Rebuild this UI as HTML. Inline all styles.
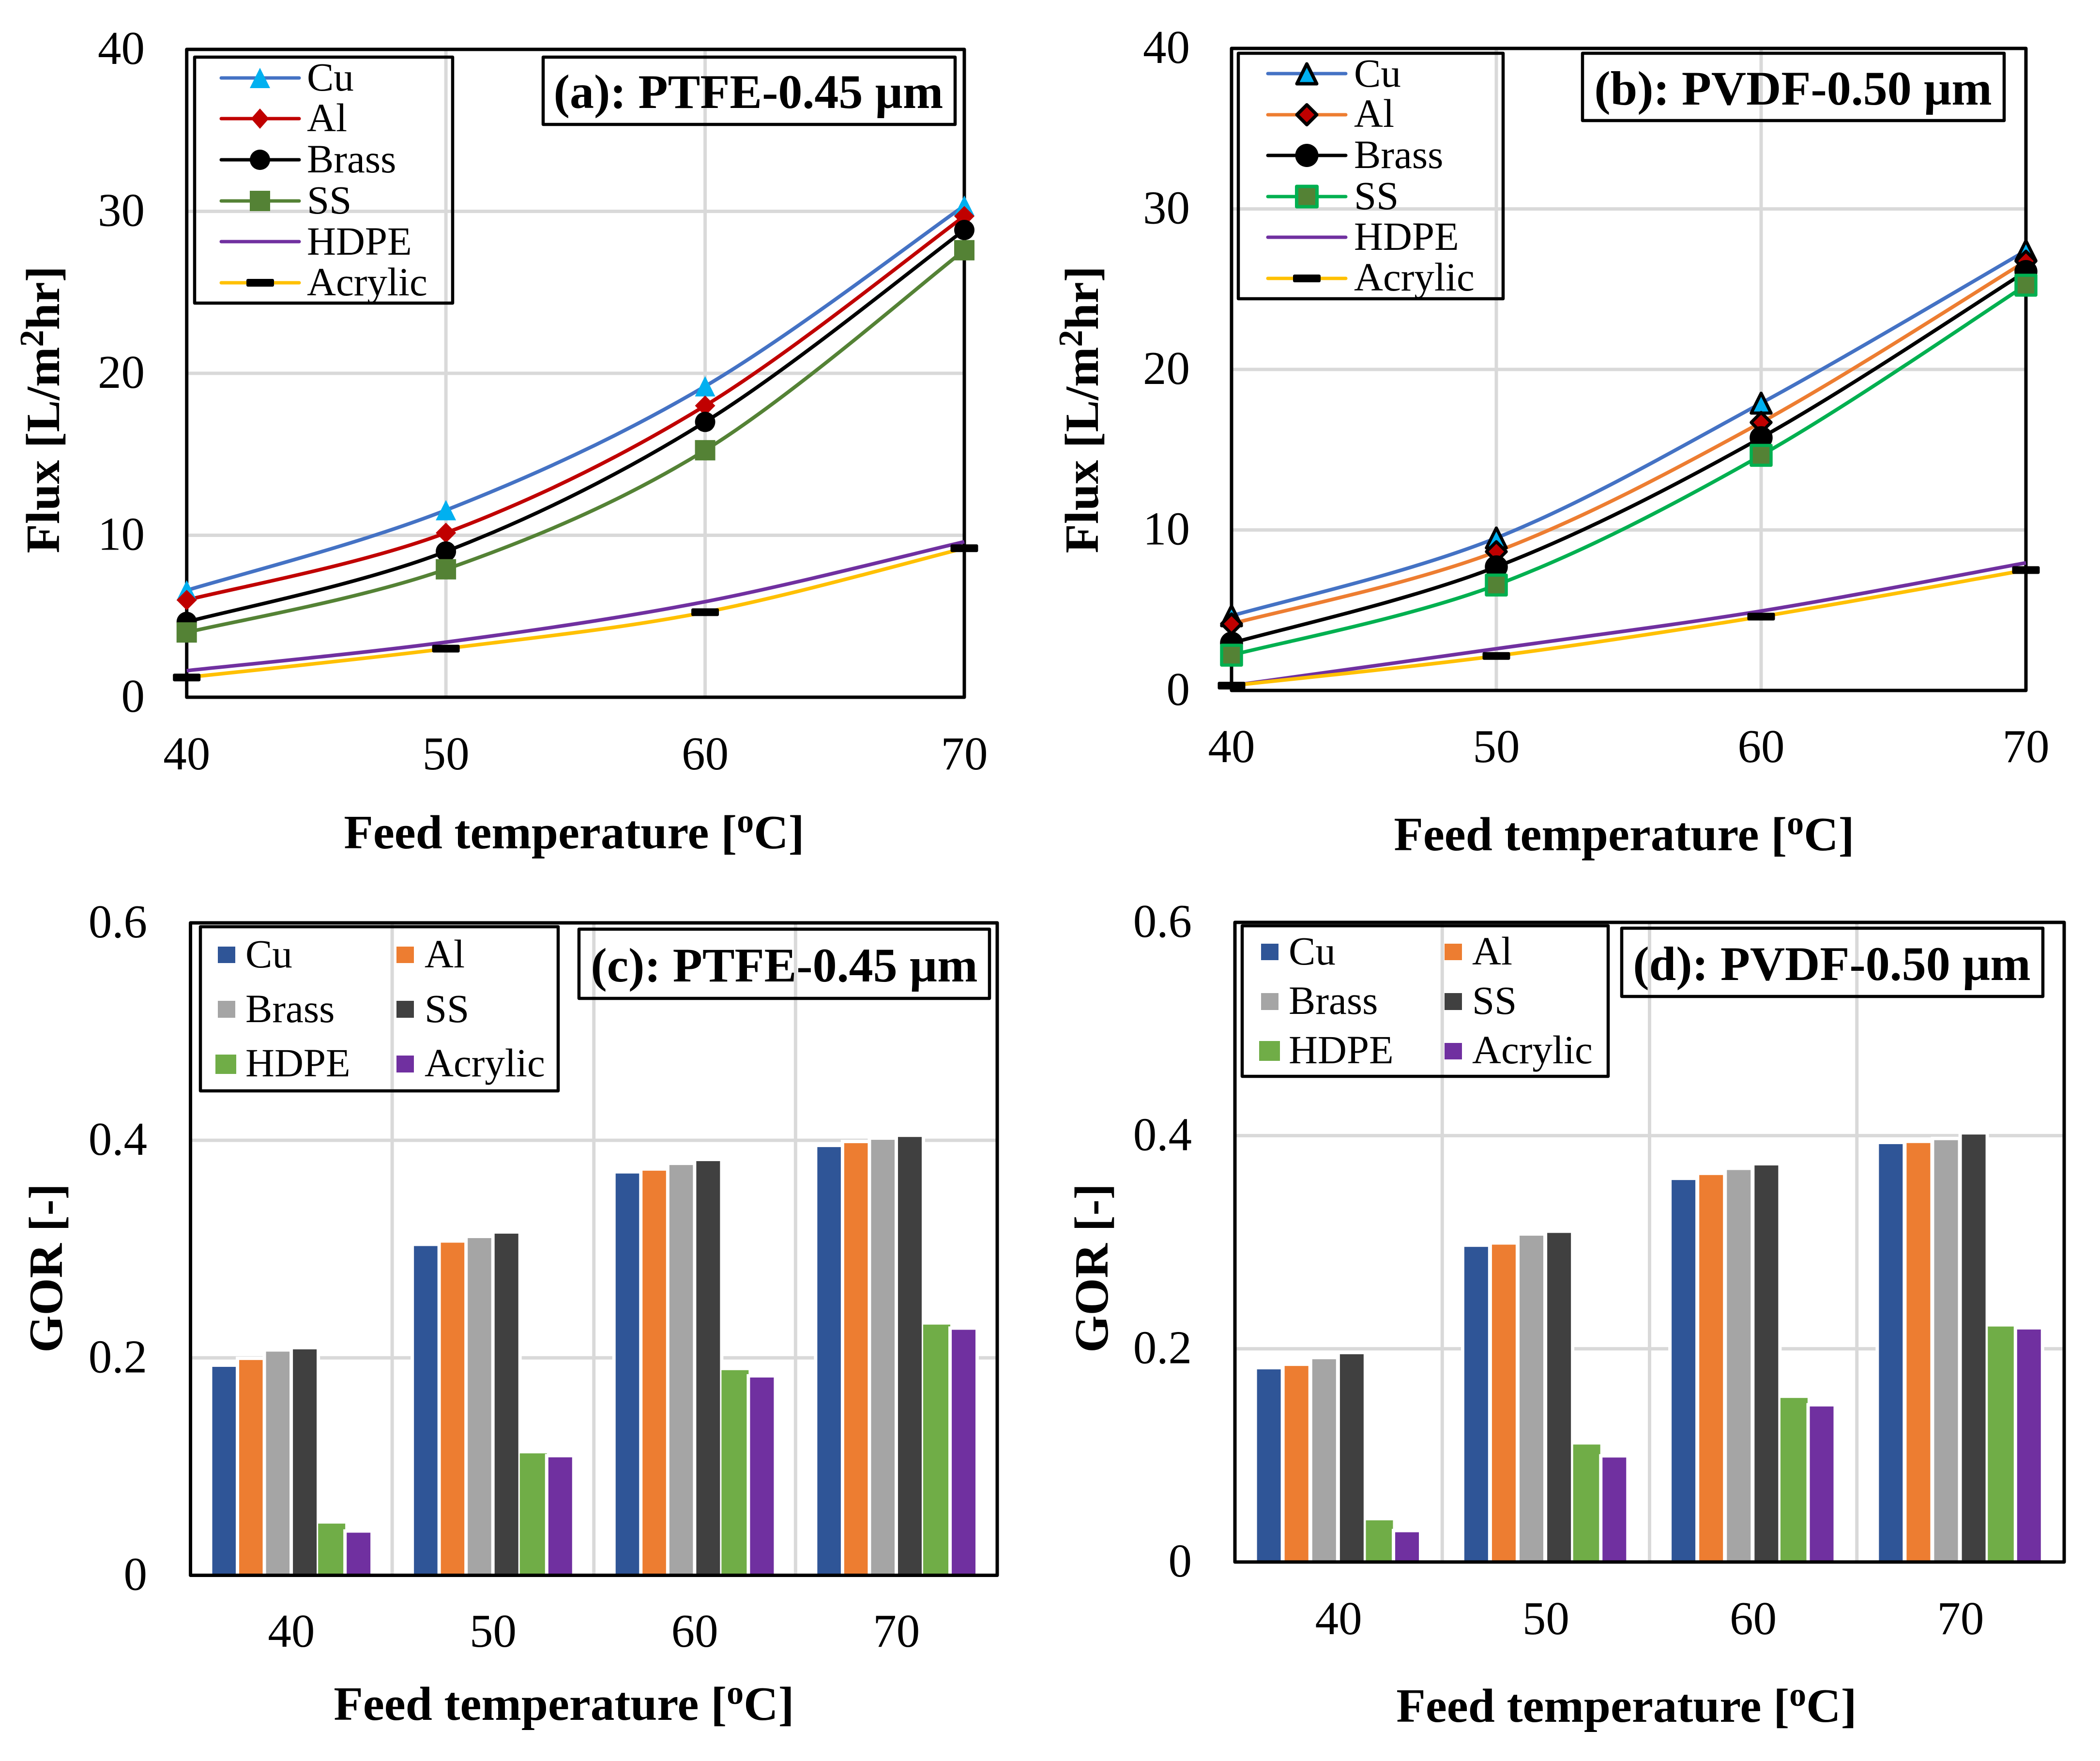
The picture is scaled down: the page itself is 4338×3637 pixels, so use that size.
<!DOCTYPE html>
<html lang="en">
<head>
<meta charset="utf-8">
<title>Flux and GOR versus feed temperature</title>
<style>
html,body{margin:0;padding:0;background:#fff;}
svg{display:block;font-family:"Liberation Serif",serif;}
.tick{font-size:97px;fill:#000;}
.ttl{font-size:99px;font-weight:bold;fill:#000;}
.leg{font-size:83px;fill:#000;}
.box{fill:none;stroke:#000;stroke-width:6.5;stroke-linejoin:round;}
.ll{stroke-width:7;stroke-linecap:round;fill:none;}
</style>
</head>
<body>
<svg id="figure" xmlns="http://www.w3.org/2000/svg" width="4338" height="3637" viewBox="0 0 4338 3637">
<rect x="0" y="0" width="4338" height="3637" fill="#fff"/>

<g id="panel-a"></g>
<g id="panel-b"></g>
<g id="panel-c"></g>
<g id="panel-d"></g>

<!-- axis titles -->
<text class="ttl" transform="translate(122,846) rotate(-90)" text-anchor="middle">Flux [L/m<tspan font-size="70" dy="-33">2</tspan><tspan dy="33">hr]</tspan></text>
<text class="ttl" x="1186" y="1752" text-anchor="middle">Feed temperature [<tspan font-size="70" dy="-33">o</tspan><tspan dy="33">C]</tspan></text>
<text class="ttl" transform="translate(2268,846) rotate(-90)" text-anchor="middle">Flux [L/m<tspan font-size="70" dy="-33">2</tspan><tspan dy="33">hr]</tspan></text>
<text class="ttl" x="3355" y="1756" text-anchor="middle">Feed temperature [<tspan font-size="70" dy="-33">o</tspan><tspan dy="33">C]</tspan></text>
<text class="ttl" transform="translate(128,2619) rotate(-90)" text-anchor="middle">GOR [-]</text>
<text class="ttl" x="1165" y="3552" text-anchor="middle">Feed temperature [<tspan font-size="70" dy="-33">o</tspan><tspan dy="33">C]</tspan></text>
<text class="ttl" transform="translate(2288,2619) rotate(-90)" text-anchor="middle">GOR [-]</text>
<text class="ttl" x="3360" y="3556" text-anchor="middle">Feed temperature [<tspan font-size="70" dy="-33">o</tspan><tspan dy="33">C]</tspan></text>

<!-- panel titles -->
<g>
<rect class="box" x="1122" y="118" width="851" height="139" fill="none"/>
<text class="ttl" x="1546" y="223" text-anchor="middle" style="font-size:100px">(a): PTFE-0.45 µm</text>
</g>
<g>
<rect class="box" x="3269" y="110" width="871" height="139"/>
<text class="ttl" x="3704" y="216" text-anchor="middle" style="font-size:100px">(b): PVDF-0.50 µm</text>
</g>
<g>
<rect class="box" x="1196" y="1919" width="848" height="143"/>
<text class="ttl" x="1620" y="2027" text-anchor="middle" style="font-size:100px">(c): PTFE-0.45 µm</text>
</g>
<g>
<rect class="box" x="3350" y="1917" width="870" height="141"/>
<text class="ttl" x="3784" y="2024" text-anchor="middle" style="font-size:100px">(d): PVDF-0.50 µm</text>
</g>

<!-- legend a -->
<g>
<rect class="box" x="402" y="118" width="533" height="508"/>
<g><line class="ll" x1="457" x2="618" y1="161" y2="161" stroke="#4472C4"/><polygon points="537,140 558,182 516,182" fill="#00B0F0"/><text class="leg" x="634" y="187">Cu</text></g>
<g><line class="ll" x1="457" x2="618" y1="245" y2="245" stroke="#C00000"/><polygon points="537,224 555.5,245 537,266 518.5,245" fill="#C00000"/><text class="leg" x="634" y="271">Al</text></g>
<g><line class="ll" x1="457" x2="618" y1="330" y2="330" stroke="#000"/><circle cx="537" cy="330" r="21" fill="#000"/><text class="leg" x="634" y="356">Brass</text></g>
<g><line class="ll" x1="457" x2="618" y1="415" y2="415" stroke="#548235"/><rect x="516" y="394" width="42" height="42" fill="#548235"/><text class="leg" x="634" y="441">SS</text></g>
<g><line class="ll" x1="457" x2="618" y1="499" y2="499" stroke="#7030A0"/><text class="leg" x="634" y="526">HDPE</text></g>
<g><line class="ll" x1="457" x2="618" y1="584" y2="584" stroke="#FFC000"/><rect x="509" y="576" width="57" height="16" rx="3" fill="#000"/><text class="leg" x="634" y="610">Acrylic</text></g>
</g>

<!-- legend b -->
<g>
<rect class="box" x="2558" y="110" width="547" height="507"/>
<g><line class="ll" x1="2619" x2="2780" y1="152" y2="152" stroke="#4472C4"/><polygon points="2699.5,132 2720,173 2679,173" fill="#00B0F0" stroke="#000" stroke-width="7" stroke-linejoin="round"/><text class="leg" x="2797" y="179">Cu</text></g>
<g><line class="ll" x1="2619" x2="2780" y1="237" y2="237" stroke="#ED7D31"/><polygon points="2699.5,216.5 2720,237 2699.5,257.5 2679,237" fill="#C00000" stroke="#000" stroke-width="7" stroke-linejoin="round"/><text class="leg" x="2797" y="262">Al</text></g>
<g><line class="ll" x1="2619" x2="2780" y1="321" y2="321" stroke="#000"/><circle cx="2699.5" cy="321" r="24" fill="#000"/><text class="leg" x="2797" y="347">Brass</text></g>
<g><line class="ll" x1="2619" x2="2780" y1="406" y2="406" stroke="#00B050"/><rect x="2678.5" y="385" width="42" height="42" fill="#548235" stroke="#00B050" stroke-width="7" stroke-linejoin="round"/><text class="leg" x="2797" y="432">SS</text></g>
<g><line class="ll" x1="2619" x2="2780" y1="490" y2="490" stroke="#7030A0"/><text class="leg" x="2797" y="516">HDPE</text></g>
<g><line class="ll" x1="2619" x2="2780" y1="575" y2="575" stroke="#FFC000"/><rect x="2671" y="567" width="57" height="16" rx="3" fill="#000"/><text class="leg" x="2797" y="600">Acrylic</text></g>
</g>

<!-- legend c -->
<g>
<rect class="box" x="414" y="1914" width="739" height="339"/>
<g><rect x="450" y="1955" width="36" height="34" fill="#2F5597"/><text class="leg" x="507" y="1998">Cu</text></g>
<g><rect x="819" y="1955" width="36" height="34" fill="#ED7D31"/><text class="leg" x="877" y="1998">Al</text></g>
<g><rect x="450" y="2067" width="36" height="35" fill="#A5A5A5"/><text class="leg" x="507" y="2111">Brass</text></g>
<g><rect x="819" y="2067" width="36" height="35" fill="#404040"/><text class="leg" x="877" y="2111">SS</text></g>
<g><rect x="445" y="2178" width="43" height="40" fill="#70AD47"/><text class="leg" x="507" y="2223">HDPE</text></g>
<g><rect x="819" y="2180" width="36" height="35" fill="#7030A0"/><text class="leg" x="877" y="2223">Acrylic</text></g>
</g>

<!-- legend d -->
<g>
<rect class="box" x="2566" y="1912" width="756" height="311"/>
<g><rect x="2605" y="1949" width="36" height="34" fill="#2F5597"/><text class="leg" x="2662" y="1992">Cu</text></g>
<g><rect x="2984" y="1949" width="36" height="34" fill="#ED7D31"/><text class="leg" x="3041" y="1992">Al</text></g>
<g><rect x="2605" y="2051" width="36" height="35" fill="#A5A5A5"/><text class="leg" x="2662" y="2094">Brass</text></g>
<g><rect x="2984" y="2051" width="36" height="35" fill="#404040"/><text class="leg" x="3041" y="2094">SS</text></g>
<g><rect x="2601" y="2150" width="43" height="41" fill="#70AD47"/><text class="leg" x="2662" y="2196">HDPE</text></g>
<g><rect x="2984" y="2154" width="36" height="34" fill="#7030A0"/><text class="leg" x="3041" y="2196">Acrylic</text></g>
</g>
</svg>

<script>
// Shared axis data
const categories = [40, 50, 60, 70];
const fluxTicks = [0, 10, 20, 30, 40];
const gorTicks = [0, 0.2, 0.4, 0.6];

// Panel (a) flux, PTFE 0.45 um
const aCu = [6.6, 11.55, 19.2, 30.35];
const aAl = [6.0, 10.15, 18.0, 29.7];
const aBrass = [4.65, 9.0, 17.0, 28.85];
const aSS = [4.0, 7.9, 15.25, 27.6];
const aHDPE = [1.64, 3.4, 5.9, 9.6];
const aAcrylic = [1.22, 3.0, 5.25, 9.2];

// Panel (b) flux, PVDF 0.50 um
const bCu = [4.65, 9.5, 17.9, 27.4];
const bAl = [4.15, 8.65, 16.7, 26.75];
const bBrass = [2.95, 7.7, 15.75, 26.1];
const bSS = [2.2, 6.57, 14.65, 25.25];
const bHDPE = [0.3, 2.6, 4.95, 7.95];
const bAcrylic = [0.3, 2.15, 4.6, 7.5];

// Panel (c) GOR, PTFE 0.45 um
const cCu = [0.1917, 0.3028, 0.3695, 0.3938];
const cAl = [0.198, 0.3059, 0.3721, 0.3974];
const cBrass = [0.2057, 0.3101, 0.3773, 0.4005];
const cSS = [0.2078, 0.3142, 0.3809, 0.4031];
const cHDPE = [0.046, 0.1106, 0.1871, 0.229];
const cAcrylic = [0.0392, 0.1085, 0.1819, 0.2258];

// Panel (d) GOR, PVDF 0.50 um
const dCu = [0.1807, 0.2956, 0.3583, 0.392];
const dAl = [0.1839, 0.2977, 0.363, 0.393];
const dBrass = [0.1902, 0.3061, 0.3677, 0.3957];
const dSS = [0.1949, 0.3087, 0.372, 0.401];
const dHDPE = [0.0375, 0.1086, 0.1523, 0.2193];
const dAcrylic = [0.0279, 0.098, 0.1459, 0.2181];

const NS = 'http://www.w3.org/2000/svg';
function mk(parent, tag, attrs, text) {
  const el = document.createElementNS(NS, tag);
  for (const k in attrs) el.setAttribute(k, attrs[k]);
  if (text !== undefined) el.textContent = text;
  parent.appendChild(el);
  return el;
}
function smoothPath(pts) {
  let d = 'M' + pts[0][0] + ' ' + pts[0][1];
  for (let i = 0; i < pts.length - 1; i++) {
    const p0 = pts[Math.max(0, i - 1)], p1 = pts[i], p2 = pts[i + 1], p3 = pts[Math.min(pts.length - 1, i + 2)];
    d += ' C' + (p1[0] + (p2[0] - p0[0]) / 6) + ' ' + (p1[1] + (p2[1] - p0[1]) / 6) +
         ' ' + (p2[0] - (p3[0] - p1[0]) / 6) + ' ' + (p2[1] - (p3[1] - p1[1]) / 6) +
         ' ' + p2[0] + ' ' + p2[1];
  }
  return d;
}
function drawFrame(g, p, ticks, ymax) {
  const y = v => p.bottom - (v / ymax) * (p.bottom - p.top);
  ticks.forEach(function (t) {
    if (t !== 0 && t !== ymax) {
      const gl = mk(g, 'line', {x1: p.left, x2: p.right, y1: y(t), y2: y(t), stroke: '#D9D9D9', 'stroke-width': 7});
      
      
    }
    const lb = mk(g, 'text', {class: 'tick', x: p.yLabelX, y: y(t) + 30, 'text-anchor': 'end'}, String(t));
    
    
  });
  return y;
}
function drawBorder(g, p) {
  const fr = mk(g, 'rect', {x: p.left, y: p.top, width: p.right - p.left, height: p.bottom - p.top, fill: 'none', stroke: '#000', 'stroke-width': 7, 'stroke-linejoin': 'round'});
  
  
}
function drawMarker(g, type, cx, cy, fill, stroke) {
  const sw = stroke ? {stroke: stroke, 'stroke-width': 6.5, 'stroke-linejoin': 'round'} : {};
  const h = stroke ? 20.5 : 21;
  let el;
  if (type === 'tri') {
    el = mk(g, 'polygon', Object.assign({points: cx + ',' + (cy - h) + ' ' + (cx + h) + ',' + (cy + h) + ' ' + (cx - h) + ',' + (cy + h), fill: fill}, sw));
  } else if (type === 'dia') {
    el = mk(g, 'polygon', Object.assign({points: cx + ',' + (cy - h) + ' ' + (cx + h) + ',' + cy + ' ' + cx + ',' + (cy + h) + ' ' + (cx - h) + ',' + cy, fill: fill}, sw));
  } else if (type === 'cir') {
    el = mk(g, 'circle', Object.assign({cx: cx, cy: cy, r: h, fill: fill}, sw));
  } else if (type === 'sq') {
    el = mk(g, 'rect', Object.assign({x: cx - h, y: cy - h, width: 2 * h, height: 2 * h, fill: fill}, sw));
  } else if (type === 'dash') {
    el = mk(g, 'rect', {x: cx - 28.5, y: cy - 8, width: 57, height: 16, rx: 3, fill: '#000'});
  }
  if (el) {
    
    
  }
}
function drawLinePanel(id, p, series) {
  const g = document.getElementById(id);
  const x = i => p.left + (i / (categories.length - 1)) * (p.right - p.left);
  categories.forEach(function (c, i) {
    if (i > 0 && i < categories.length - 1) {
      const gl = mk(g, 'line', {x1: x(i), x2: x(i), y1: p.top, y2: p.bottom, stroke: '#D9D9D9', 'stroke-width': 7});
      
      
    }
    const lb = mk(g, 'text', {class: 'tick', x: x(i), y: p.xLabelY, 'text-anchor': 'middle'}, String(c));
    
    
  });
  const y = drawFrame(g, p, fluxTicks, 40);
  drawBorder(g, p);
  series.forEach(function (s) {
    const pts = s.values.map((v, i) => [x(i), y(v)]);
    const ln = mk(g, 'path', {d: smoothPath(pts), fill: 'none', stroke: s.color, 'stroke-width': 7.5});
    
    
  });
  series.forEach(function (s) {
    s.values.forEach(function (v, i) {
      if (s.marker) drawMarker(g, s.marker, x(i), y(v), s.fill, s.stroke);
    });
  });
}
function drawBarPanel(id, p, series) {
  const g = document.getElementById(id);
  const band = (p.right - p.left) / categories.length;
  const barW = 49, step = band * p.stepFrac, off = band * p.offFrac;
  categories.forEach(function (c, i) {
    if (i > 0) {
      const gl = mk(g, 'line', {x1: p.left + i * band, x2: p.left + i * band, y1: p.top, y2: p.bottom, stroke: '#D9D9D9', 'stroke-width': 7});
      
      
    }
    const lb = mk(g, 'text', {class: 'tick', x: p.left + (i + 0.5) * band, y: p.xLabelY, 'text-anchor': 'middle'}, String(c));
    
    
  });
  const y = drawFrame(g, p, gorTicks, 0.6);
  categories.forEach(function (c, i) {
    series.forEach(function (s, k) {
      const bx = p.left + i * band + off + k * step;
      const top = y(s.values[i]);
      if (!s.outline) {
        const halo = mk(g, 'rect', {x: bx - 7, y: top - 7, width: barW + 14, height: p.bottom - top + 7, fill: '#fff'});
        
        
      }
      const bar = mk(g, 'rect', {x: bx, y: top, width: barW, height: p.bottom - top, fill: s.color});
      if (s.outline) {
        bar.setAttribute('stroke', s.color);
        bar.setAttribute('stroke-width', 7);
      }
      
      
    });
  });
  drawBorder(g, p);
}

drawLinePanel('panel-a', {left: 385.7, right: 1992, top: 102, bottom: 1440, yLabelX: 299, xLabelY: 1589}, [
  {name: 'cu', values: aCu, color: '#4472C4', marker: 'tri', fill: '#00B0F0'},
  {name: 'al', values: aAl, color: '#C00000', marker: 'dia', fill: '#C00000'},
  {name: 'brass', values: aBrass, color: '#000000', marker: 'cir', fill: '#000'},
  {name: 'ss', values: aSS, color: '#548235', marker: 'sq', fill: '#548235'},
  {name: 'hdpe', values: aHDPE, color: '#7030A0'},
  {name: 'acrylic', values: aAcrylic, color: '#FFC000', marker: 'dash'}
]);
drawLinePanel('panel-b', {left: 2544, right: 4185, top: 100, bottom: 1426, yLabelX: 2458, xLabelY: 1574}, [
  {name: 'cu', values: bCu, color: '#4472C4', marker: 'tri', fill: '#00B0F0', stroke: '#000'},
  {name: 'al', values: bAl, color: '#ED7D31', marker: 'dia', fill: '#C00000', stroke: '#000'},
  {name: 'brass', values: bBrass, color: '#000000', marker: 'cir', fill: '#000', stroke: '#000'},
  {name: 'ss', values: bSS, color: '#00B050', marker: 'sq', fill: '#548235', stroke: '#00B050'},
  {name: 'hdpe', values: bHDPE, color: '#7030A0'},
  {name: 'acrylic', values: bAcrylic, color: '#FFC000', marker: 'dash'}
]);
drawBarPanel('panel-c', {left: 393.5, right: 2060, top: 1906, bottom: 3253.5, yLabelX: 304, xLabelY: 3401, stepFrac: 0.1333, offFrac: 0.108}, [
  {name: 'cu', values: cCu, color: '#2F5597'},
  {name: 'al', values: cAl, color: '#ED7D31'},
  {name: 'brass', values: cBrass, color: '#A5A5A5'},
  {name: 'ss', values: cSS, color: '#404040'},
  {name: 'hdpe', values: cHDPE, color: '#70AD47', outline: true},
  {name: 'acrylic', values: cAcrylic, color: '#7030A0'}
]);
drawBarPanel('panel-d', {left: 2551, right: 4264, top: 1905, bottom: 3226, yLabelX: 2462, xLabelY: 3375, stepFrac: 0.1333, offFrac: 0.1065}, [
  {name: 'cu', values: dCu, color: '#2F5597'},
  {name: 'al', values: dAl, color: '#ED7D31'},
  {name: 'brass', values: dBrass, color: '#A5A5A5'},
  {name: 'ss', values: dSS, color: '#404040'},
  {name: 'hdpe', values: dHDPE, color: '#70AD47', outline: true},
  {name: 'acrylic', values: dAcrylic, color: '#7030A0'}
]);
</script>
</body>
</html>
